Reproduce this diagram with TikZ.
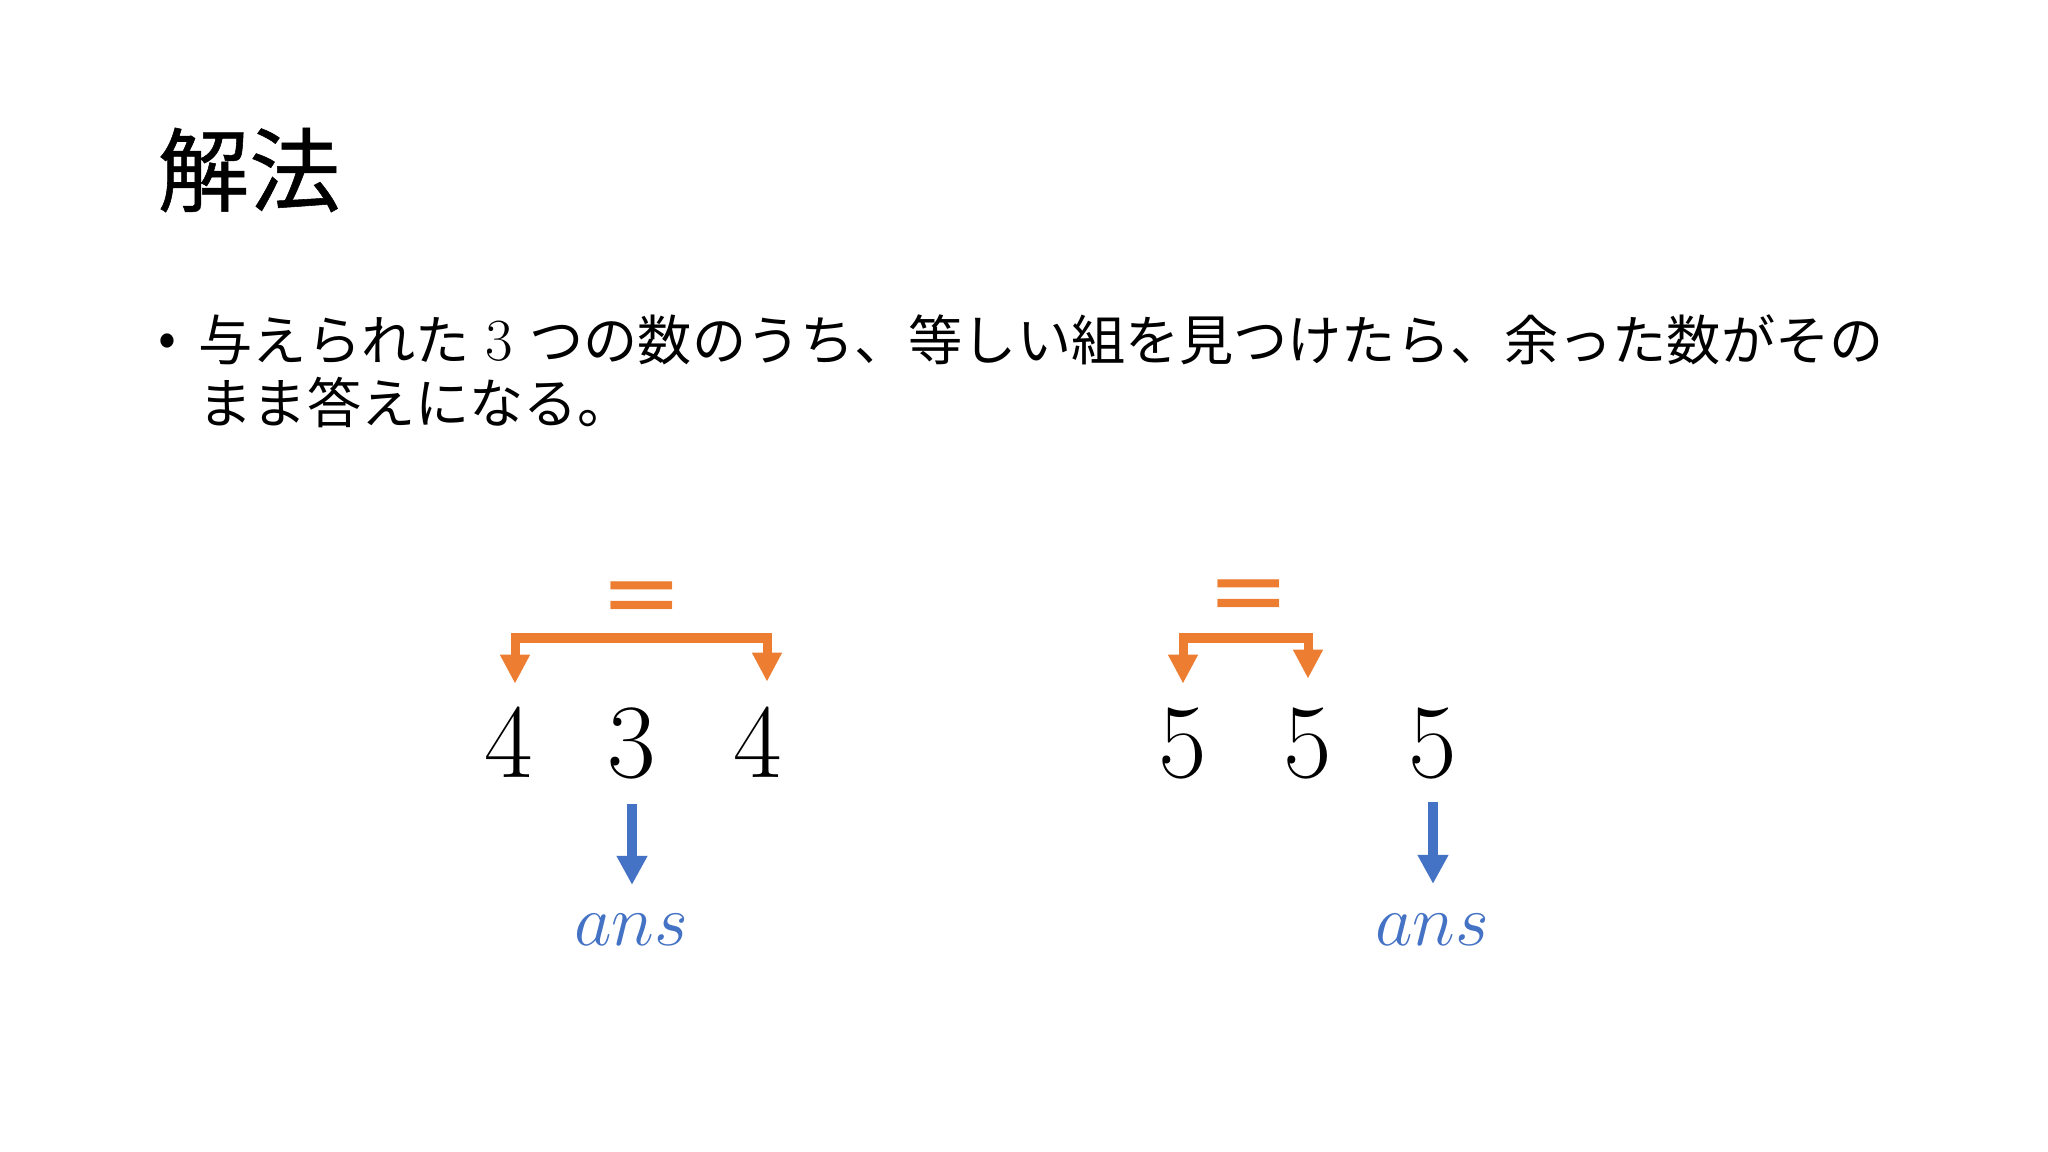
\documentclass[tikz,border=0pt]{standalone}
\usepackage{fontspec}
\newfontfamily\jp{Noto Sans CJK JP}
\newfontfamily\jphead{Noto Sans CJK JP}[FakeBold=0.6]
\newfontfamily\eqfont{DejaVu Sans}
\usetikzlibrary{arrows.meta}
\definecolor{accent}{HTML}{ED7D31}
\definecolor{answer}{HTML}{4472C4}
\begin{document}
\begin{tikzpicture}[x=0.01cm,y=-0.01cm,
    num/.style = {anchor=base, inner sep=0pt, font=\fontsize{30pt}{36pt}\selectfont},
    eqsign/.style = {inner sep=0pt, text=accent, font=\eqfont\fontsize{28pt}{32pt}\selectfont},
    ansnode/.style = {anchor=base, inner sep=0pt, text=answer, font=\fontsize{20.5pt}{24pt}\selectfont},
    pair/.style = {draw=accent, line width=0.09cm, {Triangle[width=0.28cm,length=0.29cm]}-{Triangle[width=0.28cm,length=0.29cm]}},
    down/.style = {draw=answer, line width=0.1cm, -{Triangle[width=0.29cm,length=0.29cm]}}]
        \fill[white] (0,0) rectangle (2048,1152);
        \useasboundingbox (0,0) rectangle (2048,1152);
        \node[anchor=west, inner sep=0pt, font=\jphead\fontsize{26pt}{30pt}\selectfont] (title) at (157,170) {解法};
        \node[inner sep=0pt, font=\fontsize{15pt}{18pt}\selectfont] (dot) at (167,345) {\jp •};
        \node[anchor=base west, inner sep=0pt, align=left, font=\fontsize{15.4pt}{18.1pt}\selectfont] (text) at (198,424)
            {{\jp 与えられた} {\fontsize{17pt}{18pt}\selectfont 3} {\jp つの数のうち、等しい組を見つけたら、余った数がその}\\{\jp まま答えになる。}};
        %
        \node[num] (n1) at (509,777) {4};
        \node[num] (n2) at (632,777) {3};
        \node[num] (n3) at (758,777) {4};
        \node[eqsign] (eqA) at (642,604) {=};
        \coordinate (barA) at (642,638);
        \node[ansnode] (ansA) at (631,945) {$ans$};
        %
        \node[num] (m1) at (1183,777) {5};
        \node[num] (m2) at (1308,777) {5};
        \node[num] (m3) at (1433,777) {5};
        \node[eqsign] (eqB) at (1249,602) {=};
        \coordinate (barB) at (1249,638);
        \node[ansnode] (ansB) at (1432,945) {$ans$};
        %
        \draw[pair, shorten <=0.22cm, shorten >=0.24cm] ([xshift=0.06cm]n1.north) |- (barA) -| ([xshift=0.09cm]n3.north);
        \draw[pair, shorten <=0.23cm, shorten >=0.28cm] (m1.north) |- (barB) -| (m2.north);
        \draw[down, shorten <=0.25cm, shorten >=0.28cm] (n2.south) -- (n2.south |- ansA.north);
        \draw[down, shorten <=0.23cm, shorten >=0.29cm] (m3.south) -- (m3.south |- ansB.north);
      \end{tikzpicture}
\end{document}
